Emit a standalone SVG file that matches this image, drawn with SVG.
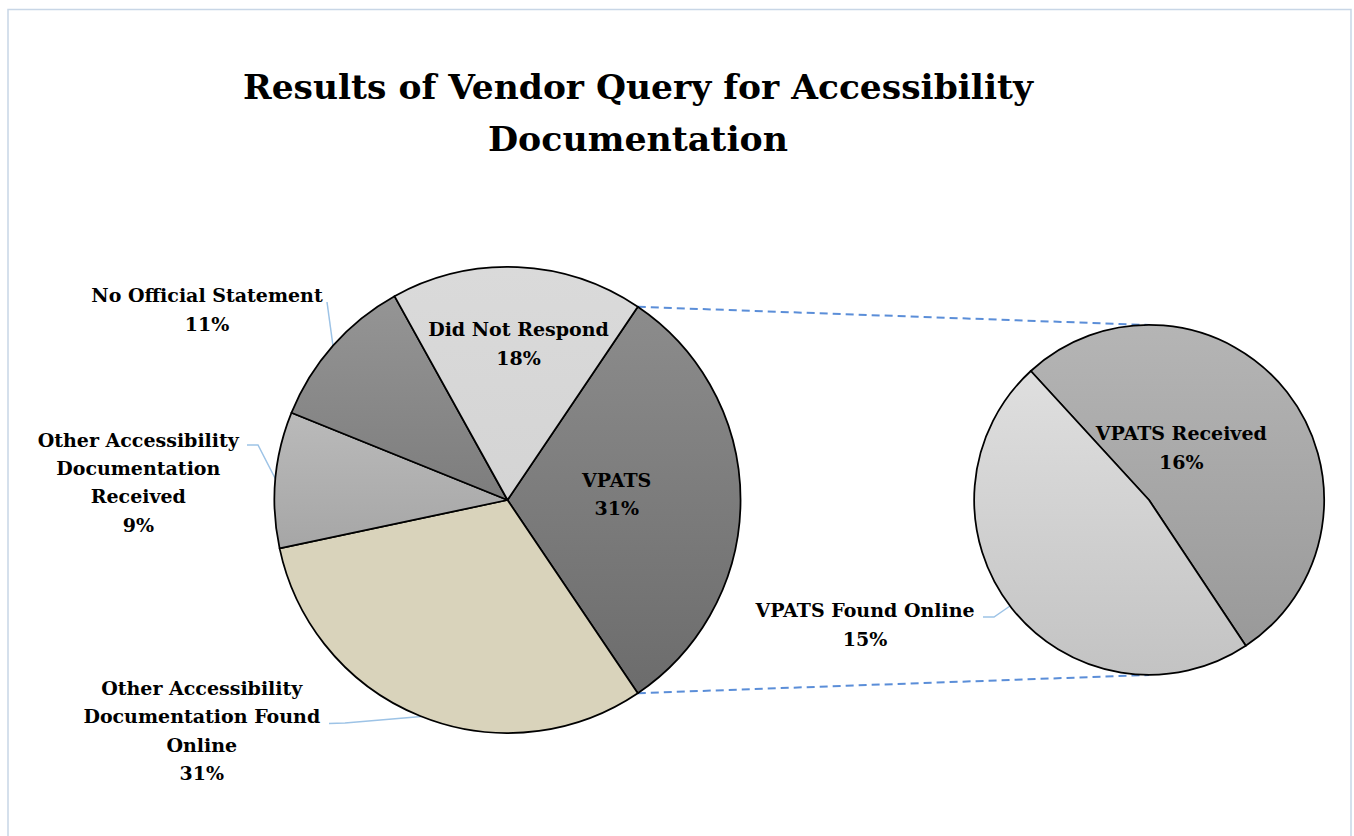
<svg xmlns="http://www.w3.org/2000/svg" width="1354" height="836" viewBox="0 0 1354 836">
  <style>
    .title { font-family: "DejaVu Serif", "Liberation Serif", serif; font-weight: bold; font-size: 33px; fill: #000; text-anchor: middle; }
    .lbl { font-family: "DejaVu Serif", "Liberation Serif", serif; font-weight: bold; font-size: 19px; fill: #000; text-anchor: middle; }
    .slice { stroke: #000; stroke-width: 1.75; stroke-linejoin: round; }
    .leader { fill: none; stroke: #9dc3e6; stroke-width: 1.5; }
    .link { fill: none; stroke: #5b8ed8; stroke-width: 2; stroke-dasharray: 8 5; }
  </style>
  <defs>
    <linearGradient id="gVpats" x1="0" y1="0" x2="0" y2="1">
      <stop offset="0" stop-color="#8c8c8c"/>
      <stop offset="1" stop-color="#6c6c6c"/>
    </linearGradient>
    <linearGradient id="gDnr" x1="0" y1="0" x2="0" y2="1">
      <stop offset="0" stop-color="#dadada"/>
      <stop offset="1" stop-color="#d4d4d4"/>
    </linearGradient>
    <linearGradient id="gNos" x1="0" y1="0" x2="0" y2="1">
      <stop offset="0" stop-color="#959595"/>
      <stop offset="1" stop-color="#7d7d7d"/>
    </linearGradient>
    <linearGradient id="gOar" x1="0" y1="0" x2="0" y2="1">
      <stop offset="0" stop-color="#bababa"/>
      <stop offset="1" stop-color="#a6a6a6"/>
    </linearGradient>
    <linearGradient id="gVr" x1="0" y1="0" x2="0" y2="1">
      <stop offset="0" stop-color="#b5b5b5"/>
      <stop offset="1" stop-color="#999999"/>
    </linearGradient>
    <linearGradient id="gVf" x1="0" y1="0" x2="0" y2="1">
      <stop offset="0" stop-color="#dfdfdf"/>
      <stop offset="1" stop-color="#c3c3c3"/>
    </linearGradient>
  </defs>

  <!-- chart area frame -->
  <rect x="0" y="0" width="1354" height="836" fill="#ffffff"/>
  <path d="M8,840 V9.5 H1351 V840" fill="none" stroke="#c8d6e6" stroke-width="1.5"/>

  <!-- title -->
  <g id="title">
    <text class="title" x="638" y="99" textLength="790" lengthAdjust="spacingAndGlyphs">Results of Vendor Query for Accessibility</text>
    <text class="title" x="638" y="151" textLength="300" lengthAdjust="spacingAndGlyphs">Documentation</text>
  </g>

  <!-- series lines joining the split slice to the secondary pie -->
  <g id="connectors">
    <line class="link" x1="637.8" y1="306.8" x2="1149" y2="325"/>
    <line class="link" x1="637.8" y1="693.2" x2="1149" y2="675"/>
    <polyline class="leader" points="327,302 333,346"/>
    <polyline class="leader" points="247,445 258,445 276,480"/>
    <polyline class="leader" points="329,723.5 345,723 421.5,716.5"/>
    <polyline class="leader" points="983,617 994,617 1010,606"/>
  </g>

  <!-- main pie, centre (507.5,500), r 233 -->
  <g id="slice-vpats">
    <path class="slice" fill="url(#gVpats)" d="M507.5,500 L637.8,306.8 A233,233 0 0 1 637.8,693.2 Z"/>
    <text class="lbl" x="616.7" y="486.7">VPATS</text>
    <text class="lbl" x="616.7" y="515">31%</text>
  </g>
  <g id="slice-other-found">
    <path class="slice" fill="#d9d3bb" d="M507.5,500 L637.8,693.2 A233,233 0 0 1 279.6,548.4 Z"/>
  </g>
  <g id="slice-other-received">
    <path class="slice" fill="url(#gOar)" d="M507.5,500 L279.6,548.4 A233,233 0 0 1 291.5,412.7 Z"/>
  </g>
  <g id="slice-no-statement">
    <path class="slice" fill="url(#gNos)" d="M507.5,500 L291.5,412.7 A233,233 0 0 1 394.5,296.2 Z"/>
  </g>
  <g id="slice-no-response">
    <path class="slice" fill="url(#gDnr)" d="M507.5,500 L394.5,296.2 A233,233 0 0 1 637.8,306.8 Z"/>
    <text class="lbl" x="518.5" y="336">Did Not Respond</text>
    <text class="lbl" x="518.5" y="365">18%</text>
  </g>

  <!-- secondary pie, centre (1149,500), r 175 -->
  <g id="slice-vpats-received">
    <path class="slice" fill="url(#gVr)" d="M1149,500 L1030.8,371 A175,175 0 1 1 1245.8,645.8 Z"/>
    <text class="lbl" x="1181.3" y="440">VPATS Received</text>
    <text class="lbl" x="1181.3" y="469">16%</text>
  </g>
  <g id="slice-vpats-online">
    <path class="slice" fill="url(#gVf)" d="M1149,500 L1245.8,645.8 A175,175 0 0 1 1030.8,371 Z"/>
  </g>

  <!-- outside labels -->
  <g id="label-no-statement">
    <text class="lbl" x="207" y="302">No Official Statement</text>
    <text class="lbl" x="207" y="331">11%</text>
  </g>
  <g id="label-other-received">
    <text class="lbl" x="138.3" y="446.7">Other Accessibility</text>
    <text class="lbl" x="138.3" y="475">Documentation</text>
    <text class="lbl" x="138.3" y="503.3">Received</text>
    <text class="lbl" x="138.3" y="531.5">9%</text>
  </g>
  <g id="label-other-found">
    <text class="lbl" x="201.8" y="695">Other Accessibility</text>
    <text class="lbl" x="201.8" y="723.3">Documentation Found</text>
    <text class="lbl" x="201.8" y="751.7">Online</text>
    <text class="lbl" x="201.8" y="779.5">31%</text>
  </g>
  <g id="label-vpats-online">
    <text class="lbl" x="865" y="617.3">VPATS Found Online</text>
    <text class="lbl" x="865" y="646">15%</text>
  </g>
</svg>
